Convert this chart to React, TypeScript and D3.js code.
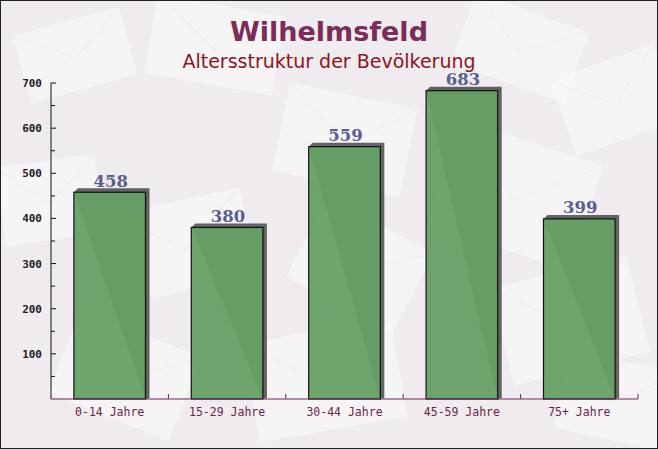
import React from "react";
import * as d3 from "d3";

const categories = ["0-14 Jahre", "15-29 Jahre", "30-44 Jahre", "45-59 Jahre", "75+ Jahre"];
const values = [458, 380, 559, 683, 399];
const yTicks = [100, 200, 300, 400, 500, 600, 700];
const yMinorTicks = [50, 150, 250, 350, 450, 550, 650];
const title = "Wilhelmsfeld";
const subtitle = "Altersstruktur der Bevölkerung";

const W = 658;
const H = 449;
const M = { left: 51, right: 638, top: 83, bottom: 399 };

// background decoration (envelope-like shapes)
const envelopes = [
  { x: 20, y: 20, w: 110, h: 70, r: -15 },
  { x: 150, y: 5, w: 130, h: 80, r: 10 },
  { x: 460, y: 10, w: 120, h: 75, r: 20 },
  { x: 560, y: 60, w: 110, h: 80, r: -20 },
  { x: 280, y: 95, w: 130, h: 90, r: 12 },
  { x: 440, y: 140, w: 150, h: 110, r: 18 },
  { x: 0, y: 160, w: 100, h: 80, r: -8 },
  { x: 120, y: 200, w: 130, h: 90, r: -12 },
  { x: 300, y: 220, w: 120, h: 90, r: 28 },
  { x: 500, y: 270, w: 140, h: 100, r: -14 },
  { x: 60, y: 330, w: 130, h: 90, r: 22 },
  { x: 250, y: 330, w: 150, h: 100, r: -10 },
  { x: 560, y: 360, w: 110, h: 80, r: 12 },
];

export default function App() {
  const x = d3
    .scaleBand<string>()
    .domain(categories)
    .range([M.left, M.right])
    .paddingInner(0.39)
    .paddingOuter(0.195);
  const y = d3.scaleLinear().domain([0, 700]).range([M.bottom, M.top]);
  const bandStep = x.step();
  const d = 4;

  return (
    <div style={{ position: "fixed", left: 0, top: 0 }}>
      <svg width={W} height={H} style={{ display: "block" }}>
        <rect x={0} y={0} width={W} height={H} fill="#efebee" />
        {envelopes.map((e, i) => (
          <g key={i} transform={`rotate(${e.r} ${e.x + e.w / 2} ${e.y + e.h / 2})`}>
            <rect x={e.x} y={e.y} width={e.w} height={e.h} fill="#fbf9fa" opacity={0.65} />
            <polyline
              points={`${e.x},${e.y} ${e.x + e.w / 2},${e.y + e.h * 0.55} ${e.x + e.w},${e.y}`}
              fill="none"
              stroke="#f1ebee"
              strokeWidth={1}
            />
          </g>
        ))}
        <rect x={0.5} y={0.5} width={W - 1} height={H - 1} fill="none" stroke="#222" strokeWidth={1} />

        <text
          x={329}
          y={41}
          textAnchor="middle"
          fontFamily="'DejaVu Sans', sans-serif"
          fontWeight="bold"
          fontSize={27}
          fill="#7a2d58"
        >
          {title}
        </text>
        <text
          x={329}
          y={68}
          textAnchor="middle"
          fontFamily="'DejaVu Sans', sans-serif"
          fontSize={19}
          fill="#8b1426"
        >
          {subtitle}
        </text>

        {categories.map((c, i) => {
          const x0 = x(c)!;
          const x1 = x0 + x.bandwidth();
          const top = y(values[i]);
          const bottom = y(0);
          return (
            <g key={c}>
              <polygon
                points={`${x0},${top} ${x0 + d},${top - d} ${x1 + d},${top - d} ${x1 + d},${bottom - 1} ${x1},${bottom}`}
                fill="#4a4a4a"
                opacity={0.85}
              />
              <rect
                x={x0}
                y={top}
                width={x.bandwidth()}
                height={bottom - top}
                fill="#65a065"
                fillOpacity={0.95}
                stroke="#111"
                strokeWidth={1.2}
              />
              <text
                x={x0 + x.bandwidth() / 2 + 1}
                y={top - 5.5}
                textAnchor="middle"
                fontFamily="'DejaVu Serif', serif"
                fontWeight="bold"
                fontSize={16.5}
                fill="#5a5e90"
              >
                {values[i]}
              </text>
              <text
                x={x0 + x.bandwidth() / 2}
                y={M.bottom + 17}
                textAnchor="middle"
                fontFamily="'DejaVu Sans Mono', monospace"
                fontSize={11.5}
                fill="#6b1f4b"
              >
                {c}
              </text>
            </g>
          );
        })}

        {/* y axis */}
        <line x1={M.left} x2={M.left} y1={M.top} y2={M.bottom} stroke="#111" strokeWidth={1} />
        {yTicks.map((t) => (
          <g key={t}>
            <line x1={M.left} x2={M.left + 5} y1={y(t)} y2={y(t)} stroke="#111" />
            <text
              x={42}
              y={y(t) + 4}
              textAnchor="end"
              fontFamily="'DejaVu Sans Mono', monospace"
              fontWeight="bold"
              fontSize={11}
              fill="#222"
            >
              {t}
            </text>
          </g>
        ))}
        {yMinorTicks.map((t) => (
          <line key={t} x1={M.left} x2={M.left + 4} y1={y(t)} y2={y(t)} stroke="#111" />
        ))}

        {/* x axis */}
        <line x1={M.left} x2={M.right} y1={M.bottom} y2={M.bottom} stroke="#6b2a55" strokeWidth={1} />
        {categories.map((c, i) => {
          const bx = M.left + bandStep * (i + 1);
          return (
            <line key={c} x1={bx} x2={bx} y1={M.bottom} y2={M.bottom - 5} stroke="#6b2a55" />
          );
        })}
      </svg>
    </div>
  );
}
